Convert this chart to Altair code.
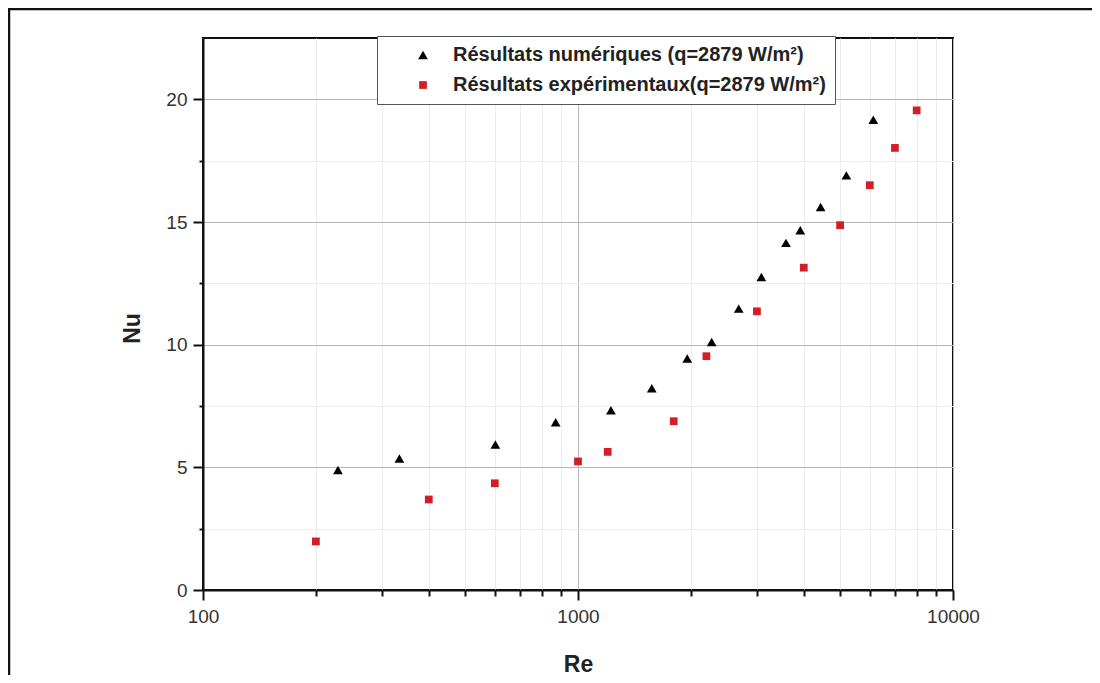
import altair as alt
import pandas as pd

# ---- data ----
re_num = [229, 334, 602, 872, 1224, 1573, 1956, 2272, 2683, 3083, 3586, 3915, 4436, 5195, 6130]
nu_num = [4.89, 5.36, 5.93, 6.84, 7.33, 8.22, 9.44, 10.11, 11.47, 12.76, 14.15, 14.66, 15.61, 16.90, 19.17]
re_exp = [200, 400, 600, 1000, 1200, 1800, 2200, 3000, 4000, 5000, 6000, 7000, 8000]
nu_exp = [1.98, 3.69, 4.35, 5.24, 5.63, 6.88, 9.53, 11.36, 13.14, 14.87, 16.50, 18.02, 19.55]
series = ["Résultats numériques (q=2879 W/m²)", "Résultats expérimentaux(q=2879 W/m²)"]
colors = ["#000000", "#d21f27"]
shapes = ["triangle-up", "square"]
sizes = [95, 60]

x_ticks = [100, 200, 300, 400, 500, 600, 700, 800, 900,
           1000, 2000, 3000, 4000, 5000, 6000, 7000, 8000, 9000, 10000]
x_major = [100, 1000, 10000]
y_ticks = [0, 2.5, 5, 7.5, 10, 12.5, 15, 17.5, 20]

df = pd.DataFrame({
    "Re": re_num + re_exp,
    "Nu": nu_num + nu_exp,
    "serie": [series[0]] * len(re_num) + [series[1]] * len(re_exp),
})

FONT = "Liberation Sans"
x_major_test = " || ".join(f"datum.value == {v}" for v in x_major)
y_major_test = "datum.value % 5 == 0"

x_axis = alt.Axis(
    values=x_ticks,
    labelExpr=f"({x_major_test}) ? format(datum.value, 'd') : ''",
    title="Re",
    titleFont=FONT, titleFontSize=23, titleFontWeight="bold", titleColor="#222",
    titlePadding=27,
    labelFont=FONT, labelFontSize=19, labelColor="#333", labelPadding=7,
    labelOverlap=False, labelFlush=False,
    domainColor="#111", domainWidth=2,
    tickColor="#111", tickWidth=2,
    tickSize={"condition": {"test": x_major_test, "value": 10}, "value": 6},
    grid=True,
    gridColor={"condition": {"test": x_major_test, "value": "#b8b8b8"}, "value": "#ececec"},
    gridWidth=1,
)

y_axis = alt.Axis(
    values=y_ticks,
    labelExpr=f"({y_major_test}) ? datum.label : ''",
    title="Nu",
    titleFont=FONT, titleFontSize=23, titleFontWeight="bold", titleColor="#222",
    titleX=-64, titleY=290, titleBaseline="alphabetic",
    labelFont=FONT, labelFontSize=19, labelColor="#333", labelPadding=6,
    labelOverlap=False, labelFlush=False,
    domainColor="#111", domainWidth=2,
    tickColor="#111", tickWidth=2,
    tickSize={"condition": {"test": y_major_test, "value": 10}, "value": 4},
    grid=True,
    gridColor={"condition": {"test": y_major_test, "value": "#b8b8b8"}, "value": "#ececec"},
    gridWidth=1,
)

points = alt.Chart(df).mark_point(filled=True, opacity=1, strokeWidth=0).encode(
    x=alt.X("Re:Q", scale=alt.Scale(type="log", domain=[100, 10000], nice=False), axis=x_axis),
    y=alt.Y("Nu:Q", scale=alt.Scale(domain=[0, 22.5], nice=False, zero=False), axis=y_axis),
    color=alt.Color("serie:N", scale=alt.Scale(domain=series, range=colors),
                    legend=alt.Legend(
                        title=None, orient="none", legendX=174, legendY=-2,
                        fillColor="white", strokeColor="#555",
                        padding=9, symbolOffset=27, labelOffset=20, rowPadding=10,
                        labelFont=FONT, labelFontSize=20, labelFontWeight="bold",
                        labelColor="#222", labelLimit=800, symbolSize=45,
                    )),
    shape=alt.Shape("serie:N", scale=alt.Scale(domain=series, range=shapes)),
    size=alt.Size("serie:N", scale=alt.Scale(domain=series, range=sizes), legend=None),
)

# outer figure frame (decoration)
frame = alt.Chart(pd.DataFrame({"k": [0]})).mark_rect(
    fill=None, stroke="#111", strokeWidth=2.5
).encode(
    x=alt.value(-194), x2=alt.value(1200), y=alt.value(-29), y2=alt.value(900)
)

chart = alt.layer(points, frame).properties(
    width=750, height=552,
    autosize=alt.AutoSizeParams(type="none"),
    padding={"left": 195, "top": 30, "right": 139, "bottom": 85},
).configure_view(stroke="#111", strokeWidth=2)

chart.save("out.html", embed_options={"renderer": "svg", "actions": False})
